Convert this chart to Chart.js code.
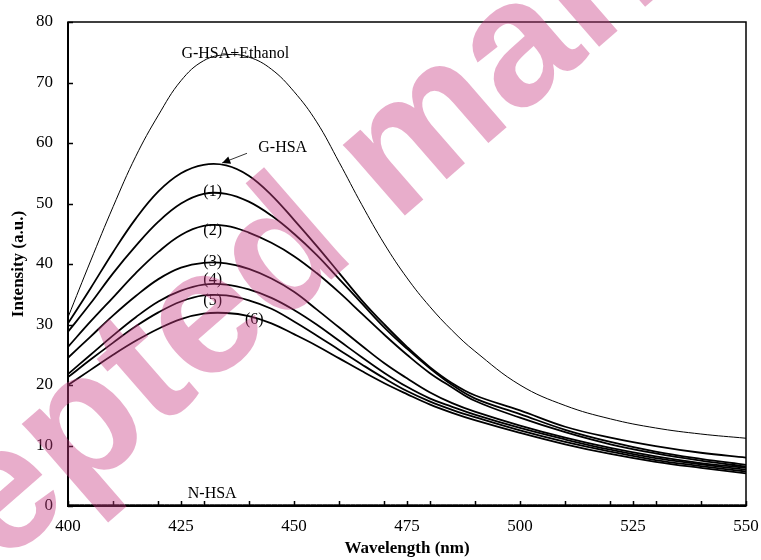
<!DOCTYPE html>
<html>
<head>
<meta charset="utf-8">
<script src="https://cdn.jsdelivr.net/npm/chart.js@4.4.1/dist/chart.umd.min.js"></script>
<style>
  html, body { margin: 0; padding: 0; background: #fff; }
</style>
</head>
<body>
<canvas id="chart" width="761" height="560"></canvas>
<script>
// Emission spectra, values
const wavelengths = [400, 405, 410, 415, 420, 425, 430, 435, 440, 445, 450, 455, 460, 465, 470, 475, 480, 485, 490, 500, 510, 520, 530, 540, 550]

const ghsaEthanol = [31.2, 40.5, 49.5, 57.8, 64.6, 70.3, 73.6, 74.6, 74.2, 72.2, 68.5, 63.5, 56.8, 49.8, 43.3, 37.7, 33.0, 29.0, 25.6, 20.0, 16.6, 14.4, 12.9, 11.9, 11.2]
const ghsa        = [30.2, 36.0, 42.0, 47.5, 52.0, 55.0, 56.4, 56.3, 54.6, 51.4, 47.3, 43.0, 38.5, 34.0, 30.0, 26.3, 23.0, 20.3, 18.3, 15.8, 13.1, 11.3, 9.9, 8.8, 8.0]
const sample1     = [28.8, 33.5, 38.5, 43.0, 47.0, 50.0, 51.6, 51.6, 50.3, 48.0, 45.0, 41.5, 37.5, 33.5, 29.5, 26.0, 22.8, 20.0, 17.8, 15.2, 12.6, 10.6, 9.0, 7.8, 6.8]
const sample2     = [26.3, 30.5, 34.5, 38.5, 42.0, 44.8, 46.3, 46.3, 45.2, 43.5, 41.3, 38.5, 35.3, 31.8, 28.3, 25.0, 22.0, 19.6, 17.4, 14.6, 12.2, 10.2, 8.7, 7.5, 6.5]
const sample3     = [24.5, 28.0, 31.5, 34.7, 37.5, 39.4, 40.2, 40.1, 39.2, 37.6, 35.4, 32.5, 29.5, 26.5, 23.6, 21.1, 18.8, 17.0, 15.6, 13.3, 11.3, 9.6, 8.2, 7.1, 6.3]
const sample4     = [21.8, 25.0, 28.2, 31.2, 33.8, 35.6, 36.6, 36.6, 35.8, 34.4, 32.4, 30.0, 27.3, 24.6, 22.0, 19.7, 17.8, 16.4, 15.1, 12.9, 11.0, 9.3, 7.9, 6.9, 6.0]
const sample5     = [21.3, 24.2, 27.0, 29.7, 32.0, 33.8, 34.8, 34.8, 34.0, 32.6, 30.5, 28.2, 25.8, 23.4, 21.1, 19.0, 17.3, 15.9, 14.7, 12.5, 10.6, 9.0, 7.6, 6.6, 5.7]
const sample6     = [20.0, 22.5, 25.0, 27.3, 29.3, 30.9, 31.8, 31.9, 31.4, 30.2, 28.4, 26.5, 24.4, 22.3, 20.3, 18.5, 16.8, 15.4, 14.2, 12.1, 10.2, 8.6, 7.3, 6.3, 5.4]
const nhsa        = [0.2, 0.2, 0.2, 0.2, 0.2, 0.2, 0.2, 0.2, 0.2, 0.2, 0.2, 0.2, 0.2, 0.2, 0.2, 0.2, 0.2, 0.2, 0.2, 0.2, 0.2, 0.2, 0.2, 0.2, 0.2]

const xLabelTicks = [400, 425, 450, 475, 500, 525, 550]
const xMinorTicks = [410, 420, 430, 440, 460, 470, 480, 490, 510, 520, 530, 540]
const yTicks = [0, 10, 20, 30, 40, 50, 60, 70, 80]

// curve labels, placed in data units
const curveLabels = [
  { text: "G-HSA+Ethanol", x: 437, y: 74.7 },
  { text: "G-HSA", x: 447.5, y: 59.2 },
  { text: "(1)", x: 432, y: 51.9 },
  { text: "(2)", x: 432, y: 45.5 },
  { text: "(3)", x: 432, y: 40.3 },
  { text: "(4)", x: 432, y: 37.4 },
  { text: "(5)", x: 432, y: 34.0 },
  { text: "(6)", x: 441.2, y: 30.7 },
  { text: "N-HSA", x: 431.9, y: 2.0 }
]

const serif = "'Liberation Serif', 'Times New Roman', serif"
Chart.defaults.font.family = serif
Chart.defaults.color = "#000"

const toXY = ys => wavelengths.map((x, i) => ({ x, y: ys[i] }))

function curve(label, ys, width) {
  return {
    label,
    data: toXY(ys),
    borderColor: "#000",
    borderWidth: width,
    pointRadius: 0,
    tension: 0.4,
    fill: false
  }
}

// frame, inward tick marks, curve labels, arrow and watermark
const decor = {
  id: "decor",
  afterDatasetsDraw(chart) {
    const { ctx, chartArea: a, scales: { x, y } } = chart
    ctx.save()
    ctx.strokeStyle = "#000"
    ctx.lineWidth = 1.5
    ctx.strokeRect(a.left, a.top, a.right - a.left, a.bottom - a.top)
    ctx.lineWidth = 2
    ctx.beginPath()
    ctx.moveTo(a.left, a.top)
    ctx.lineTo(a.left, a.bottom)
    ctx.lineTo(a.right, a.bottom)
    ctx.stroke()

    ctx.lineWidth = 1.5
    ctx.beginPath()
    xLabelTicks.concat(xMinorTicks).forEach(v => {
      const px = Math.round(x.getPixelForValue(v)) + 0.5
      ctx.moveTo(px, a.bottom)
      ctx.lineTo(px, a.bottom - 5)
    })
    yTicks.forEach(v => {
      const py = Math.round(y.getPixelForValue(v)) + 0.5
      ctx.moveTo(a.left, py)
      ctx.lineTo(a.left + 5, py)
    })
    ctx.stroke()

    ctx.fillStyle = "#000"
    ctx.font = "16px " + serif
    ctx.textAlign = "center"
    ctx.textBaseline = "middle"
    curveLabels.forEach(l => {
      ctx.fillText(l.text, x.getPixelForValue(l.x), y.getPixelForValue(l.y))
    })

    // arrow from the G-HSA label to its curve
    const x0 = x.getPixelForValue(439.6), y0 = y.getPixelForValue(58.3)
    const x1 = x.getPixelForValue(434.1), y1 = y.getPixelForValue(56.7)
    const ang = Math.atan2(y1 - y0, x1 - x0)
    ctx.lineWidth = 0.8
    ctx.beginPath()
    ctx.moveTo(x0, y0)
    ctx.lineTo(x1, y1)
    ctx.stroke()
    ctx.beginPath()
    ctx.moveTo(x1, y1)
    ctx.lineTo(x1 - 9 * Math.cos(ang - 0.45), y1 - 9 * Math.sin(ang - 0.45))
    ctx.lineTo(x1 - 9 * Math.cos(ang + 0.45), y1 - 9 * Math.sin(ang + 0.45))
    ctx.closePath()
    ctx.fill()
    ctx.restore()
  },
  afterDraw(chart) {
    const { ctx } = chart
    ctx.save()
    ctx.font = "bold 178px 'Liberation Sans', Arial, sans-serif"
    ctx.fillStyle = "rgba(200, 60, 130, 0.42)"
    ctx.translate(285, 255)
    ctx.rotate(-41 * Math.PI / 180)
    const pre = ctx.measureText("Accepte").width
    const dW = ctx.measureText("d").width
    ctx.textBaseline = "alphabetic"
    ctx.fillText("Accepted manuscript", -pre - dW / 2, 49)
    ctx.restore()
  }
}

new Chart(document.getElementById("chart"), {
  type: "line",
  data: {
    datasets: [
      curve("G-HSA+Ethanol", ghsaEthanol, 1),
      curve("G-HSA", ghsa, 1.8),
      curve("(1)", sample1, 1.8),
      curve("(2)", sample2, 1.8),
      curve("(3)", sample3, 1.8),
      curve("(4)", sample4, 1.8),
      curve("(5)", sample5, 1.8),
      curve("(6)", sample6, 1.8),
      curve("N-HSA", nhsa, 1)
    ]
  },
  options: {
    responsive: false,
    animation: false,
    devicePixelRatio: 1,
    layout: { padding: { left: 0, right: 15, top: 22, bottom: 0 } },
    plugins: {
      legend: { display: false },
      tooltip: { enabled: false }
    },
    scales: {
      x: {
        type: "linear",
        min: 400,
        max: 550,
        afterBuildTicks: s => { s.ticks = xLabelTicks.map(v => ({ value: v })) },
        afterFit: s => { s.height = 54; s.paddingLeft = 0; s.paddingRight = 0 },
        grid: { display: false, drawTicks: false },
        border: { display: false },
        ticks: { font: { size: 17 }, padding: 10, maxRotation: 0 },
        title: {
          display: true,
          text: "Wavelength (nm)",
          font: { size: 17, weight: "bold" },
          padding: { top: 0, bottom: 1 }
        }
      },
      y: {
        min: 0,
        max: 80,
        afterBuildTicks: s => { s.ticks = yTicks.map(v => ({ value: v })) },
        afterFit: s => { s.width = 68; s.paddingTop = 0; s.paddingBottom = 0 },
        grid: { display: false, drawTicks: false },
        border: { display: false },
        ticks: { font: { size: 17 }, padding: 15 },
        title: {
          display: true,
          text: "Intensity (a.u.)",
          font: { size: 17, weight: "bold" },
          padding: { top: 8, bottom: 0 }
        }
      }
    }
  },
  plugins: [decor]
})
</script>
</body>
</html>
